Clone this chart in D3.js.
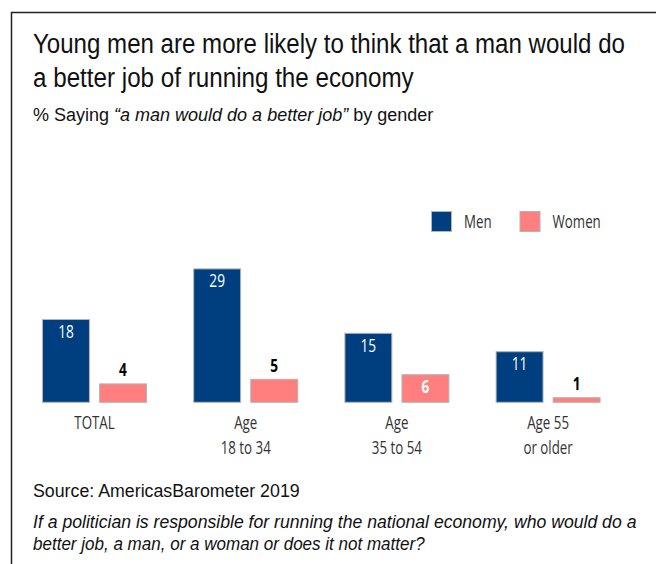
<!DOCTYPE html>
<html><head><meta charset="utf-8">
<script src="https://cdn.jsdelivr.net/npm/d3@7/dist/d3.min.js"></script>
<style>
html,body{margin:0;padding:0;background:#fff;}
svg{display:block;}
</style></head>
<body>
<script>
const categories = ["TOTAL", "Age\n18 to 34", "Age\n35 to 54", "Age 55\nor older"];
const series = ["Men", "Women"];
const menValues = [18, 29, 15, 11];
const womenValues = [4, 5, 6, 1];
const colors = ["#003F7F", "#FF7F7F"];
const titleLines = ["Young men are more likely to think that a man would do", "a better job of running the economy"];
const sourceText = "Source: AmericasBarometer 2019";
const questionLines = ["If a politician is responsible for running the national economy, who would do a", "better job, a man, or a woman or does it not matter?"];

const W = 656, H = 564;
const sansNarrow = "'Liberation Sans', Arial, sans-serif";
const humanist = "'Open Sans', 'Noto Sans', sans-serif";
const COND = 0.74; // horizontal compression for condensed chart labels

const svg = d3.select("body").append("svg").attr("width", W).attr("height", H);
svg.append("rect").attr("width", W).attr("height", H).attr("fill", "#fff");

// frame (extends beyond the viewport on right and bottom)
svg.append("path").attr("d", "M11.5,600 L11.5,12.5 L700,12.5")
  .attr("fill", "none").attr("stroke", "#222").attr("stroke-width", 1.5);

function fitText(sel, x, y, target) {
  const w = sel.node().getComputedTextLength();
  const k = Math.min(1, target / w);
  sel.attr("x", 0).attr("y", 0).attr("transform", `translate(${x},${y}) scale(${k},1)`);
  return sel;
}
function condText(parent, x, y) {
  return parent.append("text").attr("transform", `translate(${x},${y}) scale(${COND},1)`)
    .attr("font-family", humanist);
}

// title
const titleTargets = [592, 381];
titleLines.forEach((t, i) => {
  const tx = svg.append("text").attr("font-family", sansNarrow).attr("font-size", 28)
    .attr("fill", "#111").text(t);
  fitText(tx, 33, 53 + i * 34, titleTargets[i]);
});
// subtitle
const sub = svg.append("text").attr("font-family", sansNarrow).attr("font-size", 18).attr("fill", "#111");
sub.append("tspan").text("% Saying ");
sub.append("tspan").attr("font-style", "italic").text("\u201Ca man would do a better job\u201D");
sub.append("tspan").text(" by gender");
fitText(sub, 33, 121, 437);

// scales
const y = d3.scaleLinear().domain([0, 30]).range([402.3, 264.3]);
const x0 = d3.scaleBand().domain(categories).range([42, 600.6]).paddingInner(0.3056).paddingOuter(0);
const x1 = d3.scaleBand().domain(series).range([0, x0.bandwidth()]).paddingInner(0.16).paddingOuter(0);
const color = d3.scaleOrdinal().domain(series).range(colors);

const data = categories.map((c, i) => ({cat: c, vals: [
  {s: "Men", v: menValues[i]}, {s: "Women", v: womenValues[i]}]}));

const g = svg.selectAll("g.grp").data(data).join("g").attr("class", "grp")
  .attr("transform", d => `translate(${x0(d.cat)},0)`);

g.selectAll("rect").data(d => d.vals).join("rect")
  .attr("x", d => x1(d.s) + 0.5).attr("width", x1.bandwidth() - 1)
  .attr("y", d => y(d.v)).attr("height", d => y(0) - y(d.v))
  .attr("fill", d => color(d.s)).attr("stroke", "#b4b4b4").attr("stroke-width", 1);

g.each(function(d) {
  const grp = d3.select(this);
  d.vals.forEach(v => {
    const inside = v.s === "Men" || v.v >= 6;
    const bold = v.s === "Women";
    condText(grp, x1(v.s) + x1.bandwidth() / 2, inside ? y(v.v) + 18.5 : y(v.v) - 7.5)
      .attr("text-anchor", "middle").attr("font-size", 18.5)
      .attr("font-weight", bold ? "bold" : "normal")
      .attr("fill", inside ? "#fff" : "#000").text(v.v);
  });
  d.cat.split("\n").forEach((ln, i) => {
    condText(grp, x0.bandwidth() / 2, 428.5 + i * 25)
      .attr("text-anchor", "middle").attr("font-size", 18).attr("fill", "#333").text(ln);
  });
});

// legend
const legend = svg.append("g");
series.forEach((s, i) => {
  const lx = 431 + i * 88.5;
  legend.append("rect").attr("x", lx + 0.5).attr("y", 211.5).attr("width", 20).attr("height", 20)
    .attr("fill", color(s)).attr("stroke", "#b4b4b4").attr("stroke-width", 1);
  condText(legend, lx + 33, 227.5).attr("font-size", 18).attr("fill", "#333").text(s);
});

// footer
const src = svg.append("text").attr("font-family", sansNarrow).attr("font-size", 18.5)
  .attr("fill", "#111").text(sourceText);
fitText(src, 33, 497, 267);
const qTargets = [604, 392];
questionLines.forEach((t, i) => {
  const q = svg.append("text").attr("font-family", sansNarrow).attr("font-size", 18.5)
    .attr("font-style", "italic").attr("fill", "#111").text(t);
  fitText(q, 33, 528 + i * 22, qTargets[i]);
});
</script>
</body></html>
